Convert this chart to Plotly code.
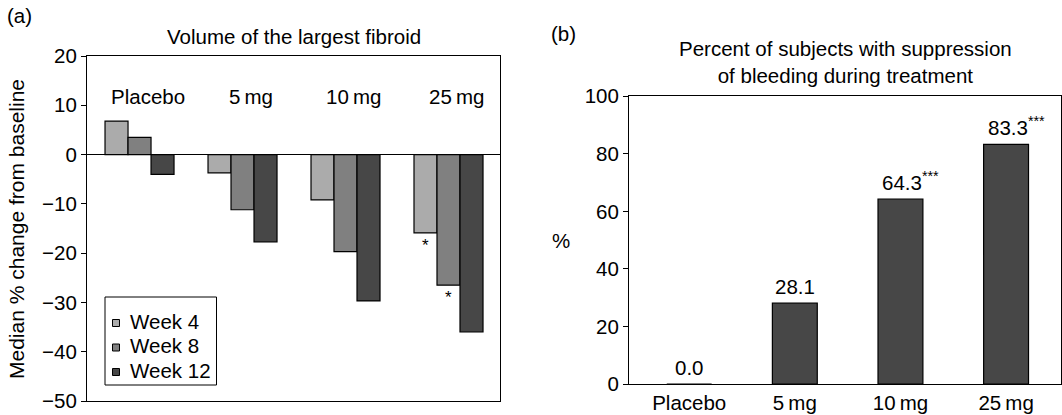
import plotly.graph_objects as go

# ---------------- data ----------------
doses = ["Placebo", "5 mg", "10 mg", "25 mg"]
week_names = ["Week 4", "Week 8", "Week 12"]
week4 = [6.8, -3.7, -9.2, -15.9]
week8 = [3.5, -11.2, -19.7, -26.5]
week12 = [-4.0, -17.7, -29.7, -36.0]
week_colors = ["#ababab", "#808080", "#474747"]

dose_labels_b = ["Placebo", "5\u2009mg", "10\u2009mg", "25\u2009mg"]
suppression = [0.0, 28.1, 64.3, 83.3]
suppression_text = ["0.0", "28.1", "64.3<sup>***</sup>", "83.3<sup>***</sup>"]

FONT = "Liberation Sans, Arial, Helvetica, sans-serif"
FS = 20.5
W, H = 1062, 415

fig = go.Figure()

# ---------------- panel (a) ----------------
for name, vals, col in zip(week_names, [week4, week8, week12], week_colors):
    fig.add_trace(go.Bar(
        x=list(range(len(doses))), y=vals, name=name, marker_color=col,
        marker_line=dict(color="black", width=1.2), showlegend=False,
        xaxis="x", yaxis="y", offsetgroup=name,
    ))

# ---------------- panel (b) ----------------
fig.add_trace(go.Bar(
    x=list(range(len(dose_labels_b))), y=suppression, marker_color="#474747",
    marker_line=dict(color="black", width=1.2), width=0.425,
    showlegend=False, xaxis="x2", yaxis="y2",
))

def px_x(p):
    return p / W

def px_y(p):
    return 1 - p / H

axis_common = dict(
    showline=True, linecolor="black", linewidth=1, mirror=True,
    showgrid=False, automargin=False,
    tickfont=dict(family=FONT, size=FS, color="black"),
)

fig.update_layout(
    width=W, height=H,
    margin=dict(l=0, r=0, t=0, b=0),
    paper_bgcolor="white", plot_bgcolor="white",
    font=dict(family=FONT, size=FS, color="black"),
    barmode="group", bargap=0.33, bargroupgap=0,
    showlegend=False,
    xaxis=dict(domain=[px_x(87), px_x(500)], range=[-0.51, 3.5],
               showticklabels=False, ticks="", zeroline=False,
               anchor="y", **axis_common),
    yaxis=dict(domain=[px_y(401), px_y(56)], range=[-50, 20],
               tickvals=[20, 10, 0, -10, -20, -30, -40, -50],
               ticktext=["20", "10", "0", "\u221210", "\u221220", "\u221230",
                         "\u221240", "\u221250"],
               ticks="outside", ticklen=5, tickcolor="black",
               zeroline=True, zerolinecolor="black", zerolinewidth=1,
               anchor="x", **axis_common),
    xaxis2=dict(domain=[px_x(629), px_x(1061)], range=[-0.57, 3.52],
                tickmode="array", tickvals=list(range(len(dose_labels_b))),
                ticktext=dose_labels_b, ticks="", zeroline=False,
                anchor="y2", **axis_common),
    yaxis2=dict(domain=[px_y(384), px_y(96.3)], range=[0, 100],
                tickvals=[0, 20, 40, 60, 80, 100],
                ticks="outside", ticklen=5, tickcolor="black",
                zeroline=False, anchor="x2", **axis_common),
)

ann = []
shapes = []
# panel labels and titles
ann.append(dict(text="(a)", x=px_x(5), y=px_y(15), xref="paper", yref="paper",
                xanchor="left", yanchor="middle", showarrow=False))
ann.append(dict(text="Volume of the largest fibroid", x=px_x(293.5), y=px_y(36),
                xref="paper", yref="paper", xanchor="center", yanchor="middle",
                showarrow=False))
ann.append(dict(text="Median % change from baseline", x=px_x(16), y=px_y(229),
                xref="paper", yref="paper", xanchor="center", yanchor="middle",
                textangle=-90, showarrow=False, font=dict(size=21)))
ann.append(dict(text="(b)", x=px_x(549), y=px_y(33), xref="paper", yref="paper",
                xanchor="left", yanchor="middle", showarrow=False))
ann.append(dict(text="Percent of subjects with suppression<br>of bleeding during treatment",
                x=px_x(845), y=px_y(62), xref="paper", yref="paper",
                xanchor="center", yanchor="middle", showarrow=False))
ann.append(dict(text="%", x=px_x(561), y=px_y(240), xref="paper", yref="paper",
                xanchor="center", yanchor="middle", showarrow=False))

# dose labels inside panel (a)
for i, d in enumerate(doses):
    ann.append(dict(text=d.replace(" ", "\u2009"), x=i, y=11.8, xref="x", yref="y",
                    xshift=8, xanchor="center", yanchor="middle", showarrow=False))

# significance stars under 25 mg week 4 / week 8 bars
bar_w = (1 - 0.33) / 3
ann.append(dict(text="*", x=3 - bar_w, y=week4[3], xref="x", yref="y",
                yanchor="top", yshift=-1, showarrow=False, font=dict(size=17)))
ann.append(dict(text="*", x=3, y=week8[3], xref="x", yref="y",
                yanchor="top", yshift=-1, showarrow=False, font=dict(size=17)))

# legend (drawn manually to mimic the compact original legend)
shapes.append(dict(type="rect", xref="paper", yref="paper",
                   x0=px_x(105), x1=px_x(216.5), y0=px_y(385), y1=px_y(297),
                   line=dict(color="black", width=1), fillcolor="white", layer="above"))
for k, (name, col) in enumerate(zip(week_names, week_colors)):
    yc = 321 + 24.5 * k
    shapes.append(dict(type="rect", xref="paper", yref="paper",
                       x0=px_x(112.5), x1=px_x(119.5),
                       y0=px_y(yc + 5.5), y1=px_y(yc - 1.5),
                       line=dict(color="black", width=1), fillcolor=col, layer="above"))
    ann.append(dict(text=name, x=px_x(128), y=px_y(yc), xref="paper", yref="paper",
                    xanchor="left", yanchor="middle", showarrow=False))

# value labels panel (b)
for i, (v, t) in enumerate(zip(suppression, suppression_text)):
    ann.append(dict(text=t, x=i, y=v, xref="x2", yref="y2", yanchor="bottom",
                    yshift=3, showarrow=False,
                    xshift=(10 if "***" in t else 0)))

fig.update_layout(annotations=ann, shapes=shapes)

fig.write_html("out.html",
               config={"displayModeBar": False},
               post_script="document.body.style.margin='0px';"
                           "document.body.style.overflow='hidden';")
